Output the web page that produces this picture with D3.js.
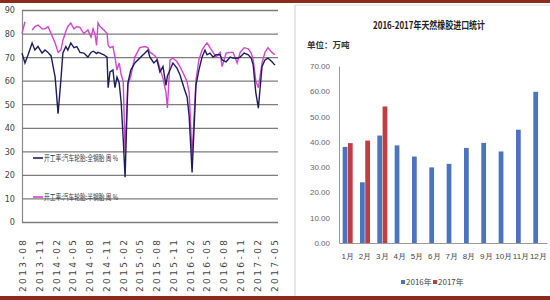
<!DOCTYPE html>
<html>
<head>
<meta charset="utf-8">
<script src="https://cdn.jsdelivr.net/npm/d3@7"></script>
<style>
  body { margin: 0; background: #fff; }
  svg { display: block; font-family: "Noto Sans CJK SC", "Noto Sans", sans-serif; }
</style>
</head>
<body>
<div id="chart"></div>
<script>
// left chart: weekly run rate of tyre plants
var weekDates = ["2013-08-01","2013-08-17","2013-09-03","2013-09-25","2013-10-10","2013-10-27","2013-11-18","2013-12-04","2013-12-20",
  "2014-01-06","2014-01-28","2014-02-13","2014-02-28","2014-03-11","2014-03-27","2014-04-07","2014-04-23","2014-05-10","2014-05-26",
  "2014-06-12","2014-07-03","2014-07-25","2014-08-11","2014-08-22","2014-09-02","2014-09-10","2014-09-18","2014-09-29","2014-10-20",
  "2014-11-06","2014-11-12","2014-11-22","2014-12-08","2014-12-19","2014-12-30","2015-01-11","2015-01-22","2015-02-02","2015-02-12",
  "2015-02-27","2015-03-15","2015-04-06","2015-05-03","2015-05-31","2015-06-16","2015-06-27","2015-07-18","2015-08-04","2015-08-20",
  "2015-09-06","2015-09-22","2015-09-30","2015-10-14","2015-10-30","2015-11-21","2015-12-07","2015-12-29","2016-01-15","2016-01-26",
  "2016-02-11","2016-03-03","2016-03-19","2016-04-05","2016-04-21","2016-05-02","2016-05-18","2016-06-04","2016-06-20","2016-07-12",
  "2016-07-23","2016-08-14","2016-09-05","2016-09-21","2016-10-13","2016-10-29","2016-11-20","2016-12-12","2016-12-28","2017-01-08",
  "2017-01-22","2017-02-05","2017-02-25","2017-03-13","2017-03-29","2017-04-20","2017-05-06"];
var fullSteel = [71.7,67.5,71,76,73,74.5,71.7,73,72,
  70.5,61.5,46,60,71.7,74.5,73,76,74,74.5,
  72,71.7,70,72,72.5,72,71.5,72,71.7,71,
  70,57,63.7,64.5,57,61.5,59,50.5,35,19,
  59,64.5,67.5,69.6,71.7,73,70,67.5,68.8,63.7,
  66,58,62,64.5,67.5,65.3,62.5,57,53,45,
  21,58,64.5,70,73,71,71.7,70,71,71,
  68.8,68,70,69.6,69.5,70,71.7,71,69.6,66.6,
  55,48.3,66,68.8,69.6,68,66.6];
var halfSteel = [80,85,null,81.5,83,83.6,82,82,83,
  80,76,72,73,77,81,83,84.5,82,83,
  82.5,80,81.5,78.5,82,79.4,75,84.5,83,81.5,
  80,75,74,74.5,70,64.5,67.5,62.5,59.5,30,
  58,62,70,74,74.5,74,72,71,69.6,65.3,
  61,55,48.4,68.8,69.6,68,66,62.5,59.5,55,
  28,60,68.8,73,75,76,74,72,70,72,
  66,71.7,72,72,67.5,72,74,73.5,71.7,68.8,
  60,57,67.5,72,74,72,71];
var leftYTicks = [0,10,20,30,40,50,60,70,80,90];
var leftXTicks = ["2013-08","2013-11","2014-02","2014-05","2014-08","2014-11","2015-02","2015-05",
  "2015-08","2015-11","2016-02","2016-05","2016-08","2016-11","2017-02","2017-05"];
var seriesNames = ["开工率:汽车轮胎:全钢胎 周 %", "开工率:汽车轮胎:半钢胎 周 %"];

// right chart: natural rubber imports
var months = ["1月","2月","3月","4月","5月","6月","7月","8月","9月","10月","11月","12月"];
var imports2016 = [38,24,42.5,38.6,34.2,29.9,31.3,37.6,39.6,36.2,44.8,59.8];
var imports2017 = [39.5,40.5,54,null,null,null,null,null,null,null,null,null];
var rightYTicks = [0,10,20,30,40,50,60,70];
var yearNames = ["2016年","2017年"];

var W = 550, H = 300;
var navy = "#1d1d5c", magenta = "#d046d0";
var blue = "#4a74bf", red = "#c23c40";

var svg = d3.select("#chart").append("svg")
    .attr("width", W)
    .attr("height", H);

svg.append("rect").attr("width", W).attr("height", H).attr("fill", "#fff");

// ---------- left: line chart
var parseDay = d3.timeParse("%Y-%m-%d");
var parseMonth = d3.timeParse("%Y-%m");

var x = d3.scaleTime()
    .domain([parseMonth("2013-08"), parseMonth("2017-05")])
    .range([22, 274]);
var y = d3.scaleLinear().domain([0, 90]).range([222, 10]);

var gy = svg.append("g")
    .attr("transform", "translate(22,0)")
    .call(d3.axisLeft(y).tickValues(leftYTicks).tickSize(-256).tickPadding(7));
gy.select(".domain").attr("stroke", "#8a8a8a").attr("stroke-width", 1.2);
gy.selectAll(".tick line").attr("stroke", "#7c7c7c").attr("stroke-width", 1.3);
gy.selectAll(".tick text")
    .attr("fill", "#444")
    .style("font-size", "9px")
    .style("font-family", "'Liberation Sans Narrow', 'DejaVu Sans Condensed', sans-serif");

var gx = svg.append("g")
    .attr("transform", "translate(0,222)")
    .call(d3.axisBottom(x).tickValues(leftXTicks.map(parseMonth)).tickSize(0).tickFormat(d3.timeFormat("%Y-%m")));
gx.select(".domain").remove();
gx.selectAll(".tick text")
    .attr("transform", "translate(0,18) rotate(-90)")
    .attr("text-anchor", "end")
    .attr("dy", "0.35em")
    .attr("y", 0)
    .attr("x", 0)
    .attr("fill", "#444")
    .attr("textLength", 52)
    .attr("lengthAdjust", "spacing")
    .style("font-size", "9px")
    .style("font-family", "'DejaVu Sans', sans-serif");

var line = d3.line()
    .defined(function(d) { return d[1] != null; })
    .x(function(d) { return x(parseDay(d[0])); })
    .y(function(d) { return y(d[1]); });

svg.append("path")
    .datum(d3.zip(weekDates, halfSteel))
    .attr("d", line)
    .attr("fill", "none")
    .attr("stroke", magenta)
    .attr("stroke-width", 1.4);

svg.append("path")
    .datum(d3.zip(weekDates, fullSteel))
    .attr("d", line)
    .attr("fill", "none")
    .attr("stroke", navy)
    .attr("stroke-width", 1.4);

var legY = [158, 197];
[navy, magenta].forEach(function(c, i) {
  svg.append("line")
      .attr("x1", 33).attr("x2", 43)
      .attr("y1", legY[i]).attr("y2", legY[i])
      .attr("stroke", c).attr("stroke-width", 1.6);
  svg.append("text")
      .attr("x", 44).attr("y", legY[i])
      .attr("dy", "0.35em")
      .attr("fill", "#333")
      .attr("textLength", 74)
      .attr("lengthAdjust", "spacingAndGlyphs")
      .style("font-size", "8px")
      .text(seriesNames[i]);
});

// ---------- right: bar chart
svg.append("line").attr("x1", 295).attr("x2", 295).attr("y1", 5).attr("y2", 296)
    .attr("stroke", "#cfcfcf").attr("stroke-width", 1);
svg.append("line").attr("x1", 295).attr("x2", W).attr("y1", 5).attr("y2", 5)
    .attr("stroke", "#ddd6ea").attr("stroke-width", 1);

svg.append("text")
    .attr("x", 429).attr("y", 25)
    .attr("text-anchor", "middle")
    .attr("dy", "0.35em")
    .attr("font-weight", "bold")
    .attr("fill", "#222")
    .attr("textLength", 112)
    .attr("lengthAdjust", "spacingAndGlyphs")
    .style("font-size", "10px")
    .text("2016-2017年天然橡胶进口统计");

svg.append("text")
    .attr("x", 307).attr("y", 45)
    .attr("dy", "0.35em")
    .attr("font-weight", "bold")
    .attr("fill", "#333")
    .style("font-size", "8.5px")
    .text("单位：万吨");

var yR = d3.scaleLinear().domain([0, 70]).range([243, 66]);
var xR = d3.scaleBand().domain(months).range([339, 547]);
var xSub = d3.scaleBand().domain(yearNames).range([0, 10]).paddingInner(0.1);

var gyR = svg.append("g")
    .attr("transform", "translate(339,0)")
    .call(d3.axisLeft(yR).tickValues(rightYTicks).tickSize(0).tickPadding(9).tickFormat(d3.format(".2f")));
gyR.select(".domain").attr("stroke", "#9a9a9a");
gyR.selectAll(".tick text")
    .attr("fill", "#666")
    .style("font-size", "8px");

var gxR = svg.append("g")
    .attr("transform", "translate(0,243)")
    .call(d3.axisBottom(xR).tickSize(0).tickPadding(10));
gxR.select(".domain").attr("stroke", "#9a9a9a");
gxR.selectAll(".tick text")
    .attr("fill", "#444")
    .style("font-size", "8px");

var barData = [];
months.forEach(function(m, i) {
  barData.push({ m: m, k: yearNames[0], v: imports2016[i] });
  if (imports2017[i] != null) barData.push({ m: m, k: yearNames[1], v: imports2017[i] });
});

svg.append("g").selectAll("rect")
    .data(barData)
    .join("rect")
    .attr("x", function(d) { return xR(d.m) + xR.bandwidth() / 2 - 5 + xSub(d.k); })
    .attr("width", xSub.bandwidth())
    .attr("y", function(d) { return yR(d.v); })
    .attr("height", function(d) { return yR(0) - yR(d.v); })
    .attr("fill", function(d) { return d.k === yearNames[0] ? blue : red; });

var legX = [401, 433];
[blue, red].forEach(function(c, i) {
  svg.append("rect")
      .attr("x", legX[i]).attr("y", 280)
      .attr("width", 4).attr("height", 4)
      .attr("fill", c);
  svg.append("text")
      .attr("x", legX[i] + 5).attr("y", 282)
      .attr("dy", "0.35em")
      .attr("fill", "#444")
      .style("font-size", "8px")
      .text(yearNames[i]);
});

// frame bands
svg.append("rect").attr("x", 0).attr("y", 0).attr("width", W).attr("height", 3).attr("fill", "#8e2a1c");
svg.append("rect").attr("x", 0).attr("y", 296).attr("width", W).attr("height", 4).attr("fill", "#8e2a1c");
</script>
</body>
</html>
